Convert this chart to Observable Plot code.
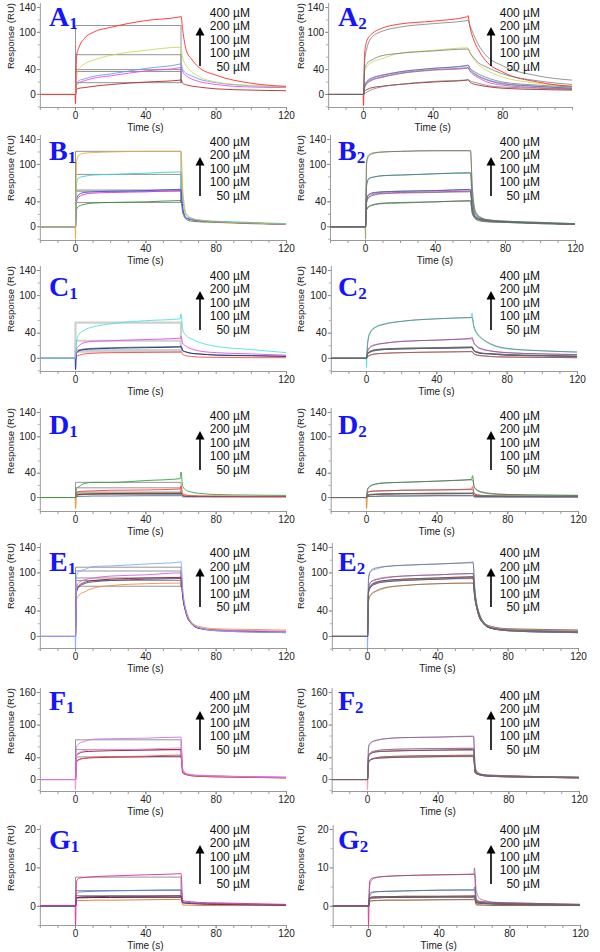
<!DOCTYPE html>
<html><head><meta charset="utf-8">
<script src="https://cdn.jsdelivr.net/npm/d3@7"></script>
<script src="https://cdn.jsdelivr.net/npm/@observablehq/plot@0.6"></script>
<style>
body{margin:0;background:#fff;}
#fig{position:relative;width:600px;height:952px;overflow:hidden;font-family:"Liberation Sans",Arial,sans-serif;}
.panel{position:absolute;}
.panel svg{overflow:visible;}
.lbl{position:absolute;font-family:"Liberation Serif","Times New Roman",serif;font-weight:bold;color:#1414ff;font-size:28px;line-height:28px;white-space:nowrap;}
.lbl span{font-size:17px;position:relative;top:3px;}
.leg{position:absolute;font-size:12px;line-height:13.5px;text-align:right;color:#111;white-space:nowrap;}
.ylab{position:absolute;font-size:9.6px;color:#222;transform:translate(-50%,-50%) rotate(-90deg);white-space:nowrap;}
.xlab{position:absolute;font-size:10px;line-height:10px;color:#222;transform:translate(-50%,-50%);white-space:nowrap;}
.arr{position:absolute;}
</style></head>
<body><div id="fig"></div>
<script>
// ---- shared data ----
const T = [-20,-0.2,0,0.6,2,5,10,20,40,59.5,60,61,63,66,70,80,100,120];
const injection = [0, 60];
const conc = ["400 µM","200 µM","100 µM","100 µM","50 µM"];
const xMinor = [-20,-10,0,10,20,30,40,50,60,70,80,90,100,110,120];
const xMajor = [0,40,80,120];
const xMajorA2 = [0,40,80];
const xMajorC1 = [0,120];
const yTicks = [0,40,100,140];
const yTicksF = [0,40,100,160];
const yTicksG = [0,10,20];
const yMinor = [-20,0,20,40,60,80,100,120,140];
const yMinorF = [-20,0,20,40,60,80,100,120,140,160];
const yMinorG = [-5,0,5,10,15,20];

// ---- A ----
const A1_colors = ["#ff2a2a","#c5dc5a","#6b9cff","#e84ce8","#b02a2a"];
const A1_values = [
[0,0,-15,62,76,90,100,108,119,125,126,103,71,57,44,31,18,13],
[0,0,0,30,41,49,55,63,71,76,76,58,46,37,29,20,14.5,12],
[0,0,0,18,22.5,25,29,33,42,49,50,40,34,30,25,19,14,12],
[0,0,0,15,19,22,26,30,38,43,44,36,30,25,21,16,12,11],
[0,0,0,8,10,11,13,16,20,23,24,18,15.5,13.5,12,9,7,6]];
const A1_boxes = [111,64,40,37,19];
const A2_colors = A1_colors;
const A2_values = [
[0,0,-18,65,87,98,106,113,118,125,127,110,90,72,55,36,20,13],
[0,0,0,35,45,52,57,66,71,75,75,68,58,48,40,28,18,13],
[0,0,0,15,22,27,31,36,42,47,48,42,36,30,25,18,13,10],
[0,0,0,12,19,24,28,34,40,43,44,38,32,27,21,15,11,9],
[0,0,0,5,8,11,13,16,20,23,24,20,17,15,13,10,8,7]];
const A2_fits = [
[0,0,0,50,75,93,101,108,114,119,120,112,98,80,64,46,30,23],
[0,0,0,40,50,56,62,66,70,73,73,68,60,51,45,33,22,16],
[0,0,0,12,20,26,30,36,42,46,47,43,38,33,28,20,15,12],
[0,0,0,10,17,23,27,33,39,42,43,39,34,29,24,17,13,10],
[0,0,0,1,4,8,12,16,21,23.5,24,22,20,18,15,12,10,8]];

// ---- B ----
const B1_colors = ["#e0b040","#40d0d0","#3a4ee0","#e030e0","#3a8a3a"];
const B1_values = [
[0,0,-20,105,115,118,119,120,121,121,121,60,21,14,11,8,6,4],
[0,0,0,70,79,81,83,84,86,88,88,45,18,13,11,9,7,5],
[0,0,0,44,52,55,56,57,58,60,60,30,14,12,10,8,6,4],
[0,0,0,40,48,52,54,55,56,58,58,28,14,11,9.5,8,6,4],
[0,0,0,28,33,36,38,39,40,42,42,22,12,9,8,7,5,4]];
const B1_boxes = [121,84,59,57,39];
const B2_colors = ["#a0a060","#30b0b0","#3a4ee0","#e030e0","#3a8a3a"];
const B2_values = [
[0,0,-20,106,116,119,120,121,122,122,122,62,22,14,11,8,6,4],
[0,0,0,68,78,80,82,83,85,87,87,44,18,13,11,9,7,5],
[0,0,0,44,52,55,56,57,58,60,60,30,15,12,10,8,6,4],
[0,0,0,40,48,52,54,55,56,57,57,28,14,11,9.5,8,6,4],
[0,0,0,28,33,36,38,39,40,42,42,22,12,9,8,7,5,4]];
const B2_fits = [
[0,0,0,100,114,118,120,121,122,122,122,64,24,15,11,8,6,4],
[0,0,0,65,77,80,82,83,85,86,86,45,20,14,11,9,7,5],
[0,0,0,42,51,54,56,57,58,59,59,31,16,12,10,8,6,4],
[0,0,0,38,47,51,53,54,55,56,56,29,15,11,9.5,8,6,4],
[0,0,0,26,32,35,37,38,40,41,41,22,13,10,8,7,5,4]];

// ---- C ----
const C1_colors = ["#50e0e0","#e050e0","#1a2a8a","#6a8a6a","#ff4a4a"];
const C1_values = [
[0,0,0,26,38,45,50,55,60,63,71,45,36,31,26,19,14,9],
[0,0,0,15,20,25,27,28,30,32,35,24,19,15,12,9,7,5],
[0,0,-18,8,12,14,15,16,17,18,19,12,10,8,7,5,4,3],
[0,0,0,9,13,15,16,17,18,19,20,13,10,8,7,5.5,4.5,3.5],
[0,0,0,3,5,7,8,9,9.5,10,11,6,4,3,2,1.5,1,1]];
const C1_boxes = [57,28,13,10.5];
const C2_colors = C1_colors;
const C2_values = [
[0,0,-15,25,42,50,55,59,63,65,72,50,38,30,23,15,12,10],
[0,0,0,12,18,22,24,27,29,32,34,25,18,14,12,9,7,6],
[0,0,0,7,10,13,14,15,16,17,18,12,9,7.5,7,5,4,3],
[0,0,0,8,11,14,15,16,17,18,19,13,10,8,7.5,6,4.5,3.5],
[0,0,0,3,5,7,8,9,10,11,11.5,7,5,4,3,2,1.5,1]];
const C2_fits = [
[0,0,0,22,40,49,54,59,63,65,65,52,40,31,24,16,12,10],
[0,0,0,11,17,21,24,27,29,31,31,25,19,15,12,9,7,6],
[0,0,0,6,10,12,14,15,16,17,17,12,10,8,7,5,4,3],
[0,0,0,7,11,13,15,16,17,18,18,13,10,8,7.5,6,4.5,3.5],
[0,0,0,2,5,7,8,9,10,10.5,10.5,7,5,4,3,2,1.5,1]];

// ---- D ----
const D1_colors = ["#38a048","#ff3a3a","#5a3a20","#e08a20","#3a6ae0"];
const D1_values = [
[0,0,0,15,18,23,25,25,28,31,42,18,12,9,7,5,4,3.5],
[0,0,0,8,10,10.5,11,12,12.5,14,19,6,4,3,2.5,2.5,2,2],
[0,0,0,3,5,5.5,6,6.5,7,7,8,3,2,2,2,1.5,1.5,1.5],
[0,0,-18,3,4.5,5,5.5,6,6,6.5,7,3,2.5,2,2,2,1.5,1.5],
[0,0,0,1.5,2,2,2.5,2.5,3,3,3.5,1,1,1,1,1,1,1]];
const D1_boxes = [25,16,9,7,5];
const D2_colors = D1_colors;
const D2_values = [
[0,0,0,14,18,22,24,25,27,30,36,17,11,8,6,5,4,3.5],
[0,0,0,8,10,10.5,11,12,12.5,14,18,6,4,3,2.5,2.5,2,2],
[0,0,0,3,5,5.5,6,6.5,7,7,8,3,2,2,2,1.5,1.5,1.5],
[0,0,-18,3,4.5,5,5.5,6,6,6.5,7,3,2.5,2,2,2,1.5,1.5],
[0,0,0,1.5,2,2,2.5,2.5,3,3,3.5,1,1,1,1,1,1,1]];
const D2_fits = [
[0,0,0,13,19,22,24,25,27,29,29,18,12,9,7,5,4,3.5],
[0,0,0,7,10,11,11,12,12.5,13,13,7,4.5,3.5,3,2.5,2,2],
[0,0,0,3,5,5.5,6,6.5,7,7,7,3.5,2.5,2,2,1.5,1.5,1.5],
[0,0,0,3,4.5,5,5.5,6,6,6.5,6.5,3.5,2.5,2,2,2,1.5,1.5],
[0,0,0,1.5,2,2,2.5,2.5,3,3,3,1.2,1,1,1,1,1,1]];

// ---- E ----
const E1_colors = ["#86a8ff","#d060e0","#8a2020","#5a3a8a","#f09040"];
const E1_values = [
[0,0,-20,95,103,105,110,111,114,117,118,75,39,21,14,9,7,6],
[0,0,0,78,85,89,92,95,97,100,100,70,38,21,14,10,9,8],
[0,0,0,72,80,85,88,90,92,93,93.5,65,36,20,13,10,8,7],
[0,0,0,70,78,83,86,88,90,91,92,63,35,20,13,9,7,6],
[0,0,0,58,65,70,76,80,83,84,84,60,40,22,16,12,11,10]];
const E1_boxes = [109,103,92,88,79];
const E2_colors = E1_colors;
const E2_values = [
[0,0,-20,95,103,106,110,112,114,117,118,75,39,21,14,9,7,6],
[0,0,0,78,86,89,92,95,97,99,99,70,38,21,14,10,9,8],
[0,0,0,72,80,85,88,90,92,94,94,65,36,20,13,10,8,7],
[0,0,0,70,78,83,86,88,90,92,92,63,35,20,13,9,7,6],
[0,0,0,58,66,71,76,80,83,84,84,60,40,22,16,12,11,10]];
const E2_fits = [
[0,0,0,90,104,108,110,112,114,116,116,77,40,22,14,9,7,6],
[0,0,0,75,86,90,93,95,97,99,99,71,39,22,14,10,9,8],
[0,0,0,70,81,86,88,90,92,93,93,66,37,21,13,10,8,7],
[0,0,0,68,79,84,86,88,90,91,91,64,36,20,13,9,7,6],
[0,0,0,55,66,72,77,80,83,84,84,61,41,23,16,12,11,10]];

// ---- F ----
const F1_colors = ["#d070f0","#ff88c8","#901040","#ff4a4a","#7a2a5a"];
const F1_values = [
[0,0,0,60,66,70,74,75,76,78,78,20,11,9,8,7,5,4],
[0,0,-19,45,50,53,55,55,56,58,58,16,10,8,7,6,5,4],
[0,0,0,44,48,51,52,53,54,55,55,15,10,8,7,6,5,4],
[0,0,0,32,36,39,41,42,43,45,45,12,9,7,6,5,4,3],
[0,0,0,33,37,39,40,41,42,43,43,12,9,7,6,5,4,3]];
const F1_boxes = [73,55,41.5];
const F2_colors = F1_colors;
const F2_values = [
[0,0,0,62,68,72,75,77,78,80,80,20,11,9,8,7,5,4],
[0,0,-19,45,50,53,55,56,57,58,58,16,10,8,7,6,5,4],
[0,0,0,44,48,51,52,53,54,55,55,15,10,8,7,6,5,4],
[0,0,0,33,37,40,42,43,44,45,45,12,9,7,6,5,4,3],
[0,0,0,33,37,39,40,41,42,43,43,12,9,7,6,5,4,3]];
const F2_fits = [
[0,0,0,58,68,72,75,77,78,79,79,22,12,9,8,7,5,4],
[0,0,0,42,50,53,55,56,57,57,57,17,10,8,7,6,5,4],
[0,0,0,41,48,51,52,53,54,54,54,16,10,8,7,6,5,4],
[0,0,0,30,37,40,42,43,44,44,44,13,9,7,6,5,4,3],
[0,0,0,31,37,39,40,41,42,42,42,13,9,7,6,5,4,3]];

// ---- G ----
const G1_colors = ["#e02a9a","#4a7ad8","#901040","#302050","#e07020"];
const G1_values = [
[0.2,0.2,-5,6.5,7.3,7.5,7.7,7.9,8.2,8.5,8.6,1.5,1.3,1.2,1.0,0.9,0.7,0.5],
[0,0,0,3.3,3.7,3.8,3.9,4.0,4.2,4.3,4.3,1.2,1.0,0.9,0.8,0.7,0.5,0.4],
[0.1,0.1,0,2.2,2.4,2.5,2.5,2.6,2.6,2.7,2.7,1.0,0.9,0.8,0.7,0.6,0.5,0.4],
[0,0,0,2.0,2.2,2.2,2.3,2.3,2.4,2.4,2.5,0.9,0.8,0.7,0.6,0.5,0.4,0.3],
[0,0,0,1.3,1.5,1.5,1.6,1.6,1.7,1.8,1.8,0.3,0.3,0.3,0.2,0.2,0.2,0.2]];
const G1_boxes = [7.6,4.1,2.8,2.3];
const G2_colors = G1_colors;
const G2_values = [
[0.2,0.2,-5,6.5,7.3,7.6,7.8,8.0,8.2,8.4,8.5,1.5,1.3,1.2,1.0,0.9,0.7,0.5],
[0,0,0,3.3,3.7,3.8,3.9,4.0,4.2,4.3,4.3,1.2,1.0,0.9,0.8,0.7,0.5,0.4],
[0.1,0.1,0,2.2,2.4,2.5,2.5,2.6,2.6,2.7,2.7,1.0,0.9,0.8,0.7,0.6,0.5,0.4],
[0,0,0,2.0,2.2,2.2,2.3,2.3,2.4,2.4,2.5,0.9,0.8,0.7,0.6,0.5,0.4,0.3],
[0,0,0,1.3,1.5,1.5,1.6,1.6,1.7,1.8,1.8,0.3,0.3,0.3,0.2,0.2,0.2,0.2]];
const G2_fits = [
[0,0,0,5,7,7.5,7.8,8.0,8.2,8.3,10,4,2,1.5,1.1,0.9,0.7,0.5],
[0,0,0,2.5,3.5,3.8,3.9,4.0,4.2,4.2,5,2,1.2,1.0,0.8,0.7,0.5,0.4],
[0,0,0,1.8,2.4,2.5,2.5,2.6,2.6,2.6,3,1.4,1.0,0.8,0.7,0.6,0.5,0.4],
[0,0,0,1.6,2.1,2.2,2.3,2.3,2.4,2.4,2.8,1.2,0.9,0.7,0.6,0.5,0.4,0.3],
[0,0,0,1.0,1.4,1.5,1.6,1.6,1.7,1.7,2,0.6,0.4,0.3,0.2,0.2,0.2,0.2]];

// ---- layout (pixels) ----
const rows = [
 {k:"A", yTop:7,   yBot:107, dom:[-21,140], ticks:yTicks,  minor:yMinor,  base:25,  leg:13.3, c2:[363,572]},
 {k:"B", yTop:139, yBot:240, dom:[-22,140], ticks:yTicks,  minor:yMinor,  base:159, leg:142.7, c2:[365,575]},
 {k:"C", yTop:270, yBot:371, dom:[-21,140], ticks:yTicks,  minor:yMinor,  base:295, leg:276.5, c2:[366,577]},
 {k:"D", yTop:412, yBot:511, dom:[-23,140], ticks:yTicks,  minor:yMinor,  base:433, leg:416.7, c2:[366,578]},
 {k:"E", yTop:547, yBot:648, dom:[-19,140], ticks:yTicks,  minor:yMinor,  base:570, leg:554, c2:[367,578]},
 {k:"F", yTop:692, yBot:791, dom:[-22,160], ticks:yTicksF, minor:yMinorF, base:709, leg:696.7, c2:[367,579]},
 {k:"G", yTop:829, yBot:925, dom:[-5,20],   ticks:yTicksG, minor:yMinorG, base:848, leg:830.7, c2:[368,580]}
];
const panels = {
 A1:{colors:A1_colors, values:A1_values, boxes:A1_boxes}, A2:{colors:A2_colors, values:A2_values, fits:A2_fits},
 B1:{colors:B1_colors, values:B1_values, boxes:B1_boxes}, B2:{colors:B2_colors, values:B2_values, fits:B2_fits},
 C1:{colors:C1_colors, values:C1_values, boxes:C1_boxes}, C2:{colors:C2_colors, values:C2_values, fits:C2_fits},
 D1:{colors:D1_colors, values:D1_values, boxes:D1_boxes}, D2:{colors:D2_colors, values:D2_values, fits:D2_fits},
 E1:{colors:E1_colors, values:E1_values, boxes:E1_boxes}, E2:{colors:E2_colors, values:E2_values, fits:E2_fits},
 F1:{colors:F1_colors, values:F1_values, boxes:F1_boxes}, F2:{colors:F2_colors, values:F2_values, fits:F2_fits},
 G1:{colors:G1_colors, values:G1_values, boxes:G1_boxes}, G2:{colors:G2_colors, values:G2_values, fits:G2_fits}
};

const fig = document.getElementById("fig");
const MT = 12, MB = 30;
// highest concentration drawn last (on top)
function tidy(values, colors){
  const out = [];
  for (let j = values.length - 1; j >= 0; j--) {
    values[j].forEach((v, i) => out.push({t:T[i], v, s:j, c: colors ? colors[j] : "#777"}));
  }
  return out;
}
function boxData(levels){
  const out = [];
  const low = d3.min(levels);
  levels.forEach((L, j) => {
    out.push({t:injection[0], v:0, s:j},{t:injection[0], v:L, s:j},{t:injection[1], v:L, s:j},{t:injection[1], v:low, s:j});
  });
  return out;
}

rows.forEach(r => {
  [1,2].forEach(col => {
    const id = r.k + col;
    const p = panels[id];
    const left = col === 1 ? 0 : 300;
    const p0 = col === 1 ? 75 : r.c2[0];
    const p120 = col === 1 ? 286 : r.c2[1];
    const pm20 = p0 - (p120 - p0) / 6;
    const ml = pm20 - left, mr = left + 300 - p120;
    const H = (r.yBot - r.yTop) + MT + MB;
    let majors = xMajor;
    if (id === "A2") majors = xMajorA2;
    if (id === "C1") majors = xMajorC1;
    const marks = [
      Plot.ruleY([r.dom[0]], {stroke:"#9a9a9a", strokeWidth:1}),
      Plot.ruleX([-20], {stroke:"#9a9a9a", strokeWidth:1, y1: r.dom[0], y2: r.dom[1] + (r.dom[1]-r.dom[0])*0.04}),
      Plot.axisX({ticks: xMinor, tickSize: 3, tickFormat: () => "", label: null, stroke:"#9a9a9a"}),
      Plot.axisX({ticks: majors, tickSize: 3.5, tickPadding: 0.5, label: null, stroke:"#8a8a8a", fill:"#222", fontSize: 10}),
      Plot.axisY({ticks: r.minor, tickSize: 2, tickFormat: () => "", label: null, stroke:"#aaa"}),
      Plot.axisY({ticks: r.ticks, tickSize: 3, tickPadding: 1.5, label: null, stroke:"#8a8a8a", fill:"#222", fontSize: 10})
    ];
    if (p.boxes) {
      const gray = id === "C1" ? "#cfcfcf" : "#8a8a8a";
      const sw = id === "C1" ? 2.2 : 0.9;
      marks.push(Plot.line(boxData(p.boxes), {x:"t", y:"v", z:"s", stroke: gray, strokeWidth: sw}));
    }
    const data = tidy(p.values, p.colors);
    marks.push(Plot.line(data, {x:"t", y:"v", z:"s", stroke:"c", strokeWidth: 0.9, curve:"monotone-x", clip: true}));
    if (p.fits) {
      marks.push(Plot.line(tidy(p.fits), {x:"t", y:"v", z:"s", stroke:"#6a6a6a", strokeWidth: 0.7, curve:"monotone-x", clip: true}));
    }
    const svg = Plot.plot({
      width: 300, height: H,
      marginLeft: ml, marginRight: mr, marginTop: MT, marginBottom: MB,
      x: {domain: [-20,120]},
      y: {domain: r.dom},
      color: {type: "identity"},
      style: {fontFamily: '"Liberation Sans", Arial, sans-serif', fontSize: "10px", background: "transparent", overflow: "visible"},
      marks
    });
    const wrap = document.createElement("div");
    wrap.className = "panel";
    wrap.style.left = left + "px";
    wrap.style.top = (r.yTop - MT) + "px";
    wrap.appendChild(svg);
    fig.appendChild(wrap);

    // axis titles
    const yl = document.createElement("div");
    yl.className = "ylab"; yl.textContent = "Response (RU)";
    yl.style.left = (col === 1 ? 10 : 300) + "px";
    yl.style.top = (r.yTop + 29) + "px";
    fig.appendChild(yl);
    const xl = document.createElement("div");
    xl.className = "xlab"; xl.textContent = "Time (s)";
    xl.style.left = (p0 + (p120 - p0) / 3) + "px";
    xl.style.top = (r.yBot + 21) + "px";
    fig.appendChild(xl);

    // panel label
    const lb = document.createElement("div");
    lb.className = "lbl";
    lb.innerHTML = r.k + "<span>" + col + "</span>";
    lb.style.left = (col === 1 ? 49 : 338) + "px";
    lb.style.top = (r.base - 22) + "px";
    fig.appendChild(lb);

    // legend
    const lg = document.createElement("div");
    lg.className = "leg";
    lg.innerHTML = conc.join("<br>");
    const rightEdge = col === 1 ? 250 : 540;
    lg.style.right = (600 - rightEdge) + "px";
    lg.style.top = (r.leg - 6.75) + "px";
    fig.appendChild(lg);
    const ax = col === 1 ? 200 : 491;
    const tip = r.leg + 14, tail = r.leg + 53;
    const ns = "http://www.w3.org/2000/svg";
    const a = document.createElementNS(ns, "svg");
    a.setAttribute("class", "arr");
    a.setAttribute("width", 12); a.setAttribute("height", tail - tip + 2);
    a.style.left = (ax - 6) + "px"; a.style.top = tip + "px";
    a.innerHTML = `<line x1="6" x2="6" y1="6" y2="${tail - tip}" stroke="#000" stroke-width="1.6"/><polygon points="6,0 1.5,8.5 10.5,8.5" fill="#000"/>`;
    fig.appendChild(a);
  });
});
</script>
</body></html>
